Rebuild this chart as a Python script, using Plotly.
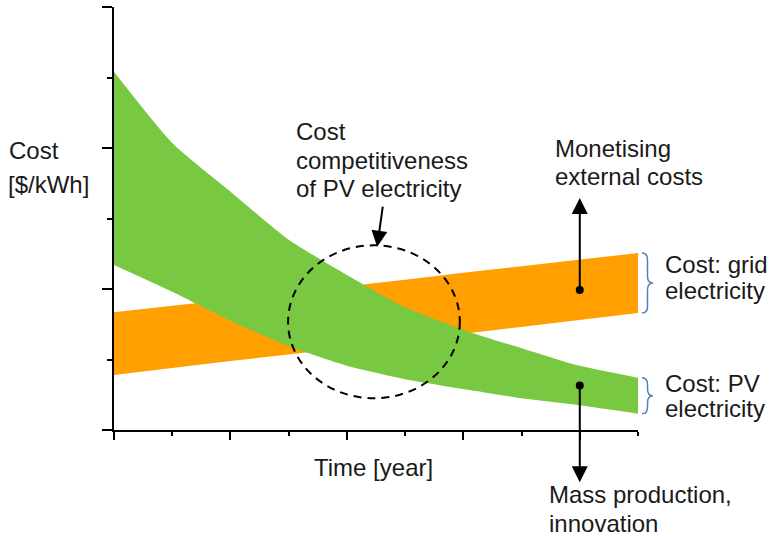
import plotly.graph_objects as go

# ---------------- data ----------------
years = [0, 1, 2, 3, 4, 5, 6, 7, 8, 9]
pv_cost_upper = [5.08, 4.07, 3.38, 2.70, 2.20, 1.74, 1.42, 1.16, 0.91, 0.74]
pv_cost_lower = [2.34, 1.96, 1.55, 1.19, 0.91, 0.72, 0.58, 0.45, 0.35, 0.23]
grid_cost_upper = [1.67, 1.76, 1.86, 1.95, 2.04, 2.13, 2.23, 2.32, 2.41, 2.51]
grid_cost_lower = [0.78, 0.88, 0.98, 1.07, 1.17, 1.27, 1.37, 1.46, 1.56, 1.66]

arrow_year = 8              # where the two vertical arrows sit
up_arrow_tip = 3.29         # cost level of the "monetising" arrow tip
down_arrow_tip = -0.74      # cost level of the "mass production" arrow tip
circle_x = [2.99, 5.94]     # dashed circle extent (years)
circle_y = [0.45, 2.62]     # dashed circle extent (cost)
pointer_head = (4.52, 2.60)
pointer_tail = (4.62, 3.19)

# ---------------- layout constants ----------------
W, H = 774, 537
ML, MR, MT, MB = 114, 136, 7, 107
PW, PH = W - ML - MR, H - MT - MB
X_MAX, Y_MAX = 9, 6

GREEN = "#78c841"
ORANGE = "#ff9f00"
BLUE = "#4f81bd"
TXT = "#1a1a1a"
FONT = "Liberation Sans, Arial, sans-serif"
FS = 24


def px(xp):
    return (xp - ML) / PW


def py(yp):
    return (H - MB - yp) / PH


fig = go.Figure()

fig.add_trace(go.Scatter(
    x=years + years[::-1], y=grid_cost_upper + grid_cost_lower[::-1],
    fill="toself", fillcolor=ORANGE, mode="lines", line=dict(width=0),
    hoverinfo="skip", showlegend=False))
fig.add_trace(go.Scatter(
    x=years, y=pv_cost_lower, mode="lines",
    line=dict(width=0, shape="spline", smoothing=0.6, color=GREEN),
    hoverinfo="skip", showlegend=False))
fig.add_trace(go.Scatter(
    x=years, y=pv_cost_upper, mode="lines", fill="tonexty", fillcolor=GREEN,
    line=dict(width=0, shape="spline", smoothing=0.6, color=GREEN),
    hoverinfo="skip", showlegend=False))

i = years.index(arrow_year)
grid_mid = (grid_cost_upper[i] + grid_cost_lower[i]) / 2
pv_mid = (pv_cost_upper[i] + pv_cost_lower[i]) / 2
fig.add_trace(go.Scatter(
    x=[arrow_year, arrow_year], y=[grid_mid, pv_mid], mode="markers",
    marker=dict(color="black", size=8), hoverinfo="skip", showlegend=False))

# dashed circle
fig.add_shape(type="circle", xref="x", yref="y",
              x0=circle_x[0], x1=circle_x[1], y0=circle_y[0], y1=circle_y[1],
              line=dict(color="black", width=2, dash="8px,6px"))

# braces
def brace(ytop, ybot, x0p, x1p, r=0.016):
    x0, x1 = px(x0p), px(x1p)
    xm = (x0 + x1) / 2
    ym = (ytop + ybot) / 2
    return (f"M {x0},{ytop} Q {xm},{ytop} {xm},{ytop - r} L {xm},{ym + r} "
            f"Q {xm},{ym} {x1},{ym} Q {xm},{ym} {xm},{ym - r} "
            f"L {xm},{ybot + r} Q {xm},{ybot} {x0},{ybot}")

for top, bot in [(grid_cost_upper[-1], grid_cost_lower[-1]),
                 (pv_cost_upper[-1], pv_cost_lower[-1])]:
    fig.add_shape(type="path", xref="paper", yref="paper",
                  path=brace(top / Y_MAX, bot / Y_MAX, 642, 653),
                  line=dict(color=BLUE, width=1.5))

# arrows
arrow_style = dict(showarrow=True, arrowhead=2, arrowsize=1.6, arrowwidth=2,
                   arrowcolor="black", text="", axref="x", ayref="y",
                   xref="x", yref="y")
fig.add_annotation(x=arrow_year, y=up_arrow_tip, ax=arrow_year, ay=grid_mid, **arrow_style)
fig.add_annotation(x=arrow_year, y=down_arrow_tip, ax=arrow_year, ay=pv_mid, **arrow_style)
fig.add_annotation(x=pointer_head[0], y=pointer_head[1],
                   ax=pointer_tail[0], ay=pointer_tail[1], **arrow_style)

# texts
labels = [
    ("Cost", 7, 150, "left"),
    ("[$/kWh]", 6, 184, "left"),
    ("Time [year]", 373, 468, "center"),
    ("Cost", 294, 131, "left"),
    ("competitiveness", 294, 160, "left"),
    ("of PV electricity", 294, 189, "left"),
    ("Monetising", 553, 148, "left"),
    ("external costs", 553, 176, "left"),
    ("Mass production,", 547, 494, "left"),
    ("innovation", 547, 523, "left"),
    ("Cost: grid", 663, 264, "left"),
    ("electricity", 663, 290, "left"),
    ("Cost: PV", 663, 383, "left"),
    ("electricity", 663, 408, "left"),
]
for txt, xp, yp, anchor in labels:
    fig.add_annotation(text=txt, x=px(xp), y=py(yp), xref="paper", yref="paper",
                       xanchor=anchor, yanchor="middle", showarrow=False,
                       font=dict(family=FONT, size=FS, color=TXT))

axis_common = dict(showline=True, linecolor="black", linewidth=1.5,
                   ticks="outside", tickcolor="black", tickwidth=1.5,
                   showticklabels=False, showgrid=False, zeroline=False,
                   tick0=0, dtick=2, fixedrange=True)
fig.update_xaxes(range=[0, X_MAX], ticklen=8,
                 minor=dict(dtick=1, ticks="outside", ticklen=4, tickwidth=1.5,
                            tickcolor="black", showgrid=False),
                 **axis_common)
fig.update_yaxes(range=[0, Y_MAX], ticklen=10,
                 minor=dict(dtick=1, ticks="outside", ticklen=5, tickwidth=1.5,
                            tickcolor="black", showgrid=False),
                 **axis_common)

fig.update_layout(width=W, height=H, autosize=False,
                  margin=dict(l=ML, r=MR, t=MT, b=MB),
                  paper_bgcolor="white", plot_bgcolor="white",
                  showlegend=False, font=dict(family=FONT))

fig.write_html("out.html", config={"displayModeBar": False},
               post_script="document.body.style.margin='0px';"
                           "document.body.style.overflow='hidden';")
